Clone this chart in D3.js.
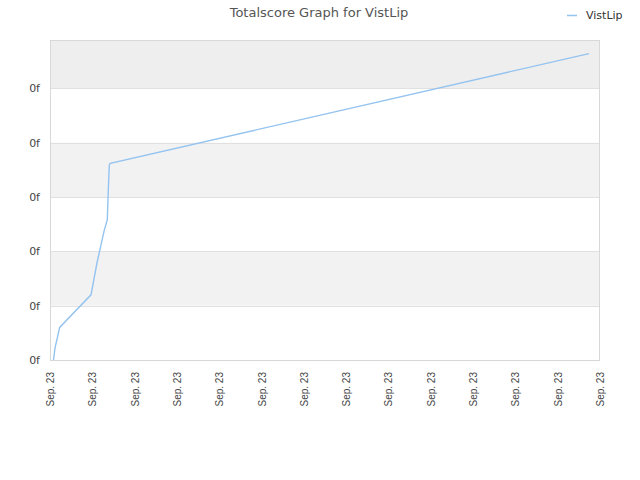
<!DOCTYPE html>
<html><head><meta charset="utf-8">
<script src="https://cdn.jsdelivr.net/npm/d3@7"></script>
<style>body{margin:0;background:#fff;} svg{display:block;font-family:"DejaVu Sans",sans-serif;}</style>
</head><body>
<script>
const title = "Totalscore Graph for VistLip";
const seriesName = "VistLip";
const xTickValues = [0,1,2,3,4,5,6,7,8,9,10,11,12,13];
const xTickLabels = ["Sep. 23","Sep. 23","Sep. 23","Sep. 23","Sep. 23","Sep. 23","Sep. 23","Sep. 23","Sep. 23","Sep. 23","Sep. 23","Sep. 23","Sep. 23","Sep. 23"];
const yTickValues = [0,1,2,3,4,5];
const yTickLabels = ["0f","0f","0f","0f","0f","0f"];
const xValues = [0.083,0.118,0.229,0.969,1.111,1.283,1.354,1.378,1.402,1.425,12.74];
const yValues = [0,0.22,0.60,1.20,1.79,2.39,2.58,3.13,3.59,3.62,5.64];

const W=640,H=480, L=50,R=600,T=40,B=360;
const svg=d3.select("body").append("svg").attr("width",W).attr("height",H);
const x=d3.scaleLinear().domain([0,13]).range([L,R]);
const y=d3.scaleLinear().domain([0,5.89]).range([B,T]);

// alternate bands
const bands=[1,3,5];
bands.forEach(v=>{
  const top=Math.max(y(v+1),T);
  svg.append("rect").attr("x",L).attr("y",top).attr("width",R-L).attr("height",y(v)-top)
    .attr("fill", v===5?"#eeeeee":"#f2f2f2");
});
// gridlines
yTickValues.forEach(v=>{
  svg.append("line").attr("x1",L).attr("x2",R).attr("y1",Math.round(y(v))+0.5).attr("y2",Math.round(y(v))+0.5)
    .attr("stroke","#e0e0e0");
});
svg.append("rect").attr("x",L+0.5).attr("y",T+0.5).attr("width",R-L-1).attr("height",B-T).attr("fill","none").attr("stroke","#d8d8d8");

// y axis labels
const yAxis=d3.axisLeft(y).tickValues(yTickValues).tickFormat((d,i)=>yTickLabels[i]).tickSize(0).tickPadding(10);
const gy=svg.append("g").attr("transform",`translate(${L},0)`).call(yAxis);
gy.select(".domain").remove();
gy.selectAll("text").attr("fill","#444").style("font-size","11px").style("font-family","DejaVu Sans");

// x axis labels
const xAxis=d3.axisBottom(x).tickValues(xTickValues).tickFormat((d,i)=>xTickLabels[i]).tickSize(0);
const gx=svg.append("g").attr("transform",`translate(0,${B})`).call(xAxis);
gx.select(".domain").remove();
gx.selectAll("text").attr("fill","#444").style("font-size","10px").style("font-family","Liberation Sans")
  .attr("text-anchor","end").attr("dy","0.35em").attr("y",0)
  .attr("transform","translate(0,12) rotate(-90)");

// line
const pts=xValues.map((v,i)=>[v,yValues[i]]);
svg.append("path").datum(pts).attr("fill","none").attr("stroke","#94c3f0").attr("stroke-width",1.4)
  .attr("d",d3.line().x(d=>x(d[0])).y(d=>y(d[1])));

// title
svg.append("text").attr("x",319).attr("y",17).attr("text-anchor","middle").attr("fill","#555")
  .style("font-size","13px").text(title);
// legend
svg.append("line").attr("x1",567).attr("x2",577).attr("y1",15.5).attr("y2",15.5).attr("stroke","#94c3f0").attr("stroke-width",1.5);
svg.append("text").attr("x",586).attr("y",19).attr("fill","#333").style("font-size","11px").text(seriesName);
</script>
</body></html>
